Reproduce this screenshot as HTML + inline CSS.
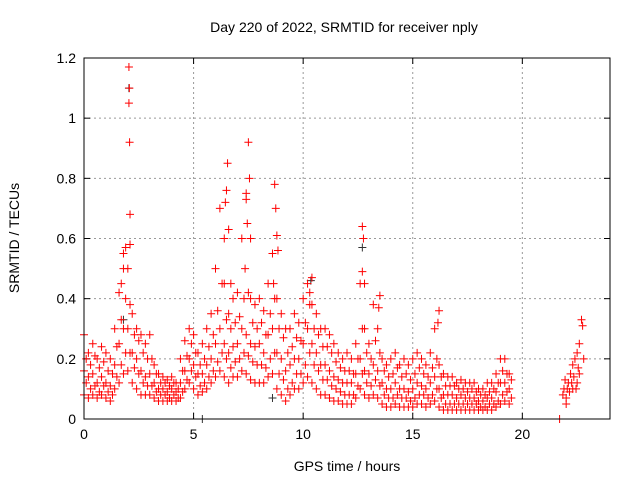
<!DOCTYPE html>
<html><head><meta charset="utf-8"><style>
body{margin:0;background:#fff}
svg{display:block;font-family:"Liberation Sans",Arial,sans-serif}
</style></head><body>
<svg id="chart" width="640" height="480" viewBox="0 0 640 480">
<text x="344" y="32" text-anchor="middle" font-size="14">Day 220 of 2022, SRMTID for receiver nply</text>
<text x="347" y="471" text-anchor="middle" font-size="14">GPS time / hours</text>
<text transform="translate(19,238) rotate(-90)" text-anchor="middle" font-size="14">SRMTID / TECUs</text>
<g id="grid"></g><g id="ticks"></g><g id="marks"></g>
<rect x="84" y="58" width="526" height="361" fill="none" stroke="#000" stroke-width="1"/>
</svg>
<script>
const xTicks=[0,5,10,15,20];
const yTicks=[0,0.2,0.4,0.6,0.8,1.0,1.2];
const yTickLabels=["0","0.2","0.4","0.6","0.8","1","1.2"];
const segStart=0, segStep=0.2, offStart=0.1;
const hiVals=[0.28,0.22,0.25,0.2,0.24,0.22,0.2,0.3,0.42,0.55,0.5,0.35,0.3,0.28,0.25,0.28,0.18,0.15,0.14,0.13,0.14,0.12,0.2,0.26,0.3,0.28,0.22,0.25,0.3,0.35,0.5,0.7,0.45,0.35,0.4,0.42,0.6,0.75,0.4,0.38,0.4,0.36,0.45,0.55,0.4,0.35,0.3,0.3,0.35,0.32,0.4,0.45,0.38,0.35,0.3,0.3,0.28,0.25,0.22,0.2,0.22,0.2,0.25,0.45,0.3,0.25,0.38,0.3,0.2,0.18,0.2,0.22,0.18,0.2,0.18,0.2,0.22,0.2,0.18,0.22,0.3,0.18,0.15,0.14,0.14,0.12,0.13,0.12,0.12,0.12,0.1,0.1,0.12,0.12,0.15,0.2,0.2,0.15];
const midVals=[0.16,0.14,0.15,0.12,0.14,0.12,0.11,0.18,0.25,0.3,0.3,0.22,0.2,0.16,0.14,0.15,0.12,0.1,0.1,0.09,0.1,0.09,0.12,0.16,0.2,0.18,0.15,0.15,0.18,0.2,0.25,0.3,0.25,0.22,0.24,0.25,0.3,0.28,0.25,0.24,0.25,0.22,0.28,0.3,0.22,0.2,0.16,0.18,0.2,0.2,0.25,0.3,0.25,0.22,0.18,0.18,0.16,0.14,0.13,0.12,0.12,0.12,0.15,0.2,0.16,0.15,0.18,0.16,0.12,0.1,0.1,0.12,0.1,0.1,0.09,0.1,0.12,0.11,0.1,0.12,0.14,0.1,0.08,0.08,0.08,0.07,0.08,0.07,0.07,0.07,0.06,0.06,0.07,0.07,0.09,0.12,0.12,0.1];
const loVals=[0.08,0.07,0.08,0.07,0.08,0.07,0.06,0.1,0.12,0.15,0.16,0.12,0.1,0.08,0.08,0.08,0.07,0.06,0.06,0.06,0.06,0.06,0.07,0.1,0.12,0.1,0.08,0.09,0.1,0.12,0.14,0.16,0.14,0.12,0.14,0.14,0.16,0.15,0.13,0.12,0.12,0.12,0.14,0.15,0.1,0.08,0.06,0.08,0.1,0.1,0.12,0.14,0.12,0.1,0.08,0.08,0.07,0.06,0.06,0.05,0.05,0.05,0.07,0.1,0.08,0.07,0.08,0.07,0.05,0.04,0.04,0.05,0.04,0.04,0.04,0.04,0.05,0.05,0.04,0.05,0.06,0.04,0.03,0.03,0.03,0.03,0.03,0.03,0.03,0.03,0.03,0.03,0.03,0.03,0.04,0.05,0.06,0.05];
const upMidVals=[0.2,0.18,0.21,0.17,0.19,0.16,0.15,0.24,0.33,0.4,0.38,0.28,0.26,0.22,0.2,0.2,0.15,0.12,0.12,0.11,0.12,0.1,0.16,0.21,0.25,0.22,0.18,0.2,0.24,0.28,0.36,0.45,0.33,0.3,0.32,0.34,0.4,0.42,0.32,0.3,0.32,0.28,0.35,0.4,0.3,0.27,0.22,0.24,0.27,0.26,0.32,0.38,0.3,0.28,0.24,0.24,0.22,0.19,0.17,0.16,0.16,0.15,0.2,0.3,0.22,0.2,0.26,0.22,0.16,0.14,0.15,0.17,0.14,0.15,0.13,0.15,0.17,0.15,0.14,0.17,0.2,0.14,0.11,0.11,0.11,0.1,0.1,0.09,0.1,0.09,0.08,0.08,0.09,0.1,0.12,0.16,0.15,0.13];
const loMidVals=[0.12,0.1,0.11,0.09,0.11,0.09,0.08,0.14,0.18,0.22,0.22,0.17,0.15,0.12,0.11,0.11,0.09,0.08,0.08,0.07,0.08,0.07,0.09,0.13,0.16,0.14,0.11,0.12,0.14,0.16,0.19,0.22,0.2,0.17,0.19,0.2,0.22,0.21,0.19,0.18,0.18,0.17,0.2,0.22,0.15,0.13,0.1,0.12,0.15,0.15,0.18,0.22,0.18,0.16,0.13,0.13,0.11,0.1,0.09,0.08,0.08,0.08,0.11,0.15,0.12,0.11,0.13,0.11,0.08,0.07,0.07,0.08,0.07,0.07,0.06,0.07,0.08,0.08,0.07,0.08,0.1,0.07,0.05,0.05,0.05,0.05,0.05,0.05,0.05,0.05,0.04,0.04,0.05,0.05,0.06,0.08,0.09,0.07];
const extraT=[2.05,2.07,2.05,2.08,2.1,2.1,1.9,1.8,1.7,6.5,6.55,6.6,6.45,6.7,6.4,7.4,7.5,7.55,7.45,7.6,7.35,8.7,8.75,8.8,8.85,8.65,10.4,10.3,12.7,12.75,12.7,12.8,13.5,13.45,16.2,16.15,21.7,21.9,22.0,22.1,22.2,22.3,22.4,22.5,22.6,22.7,22.75,22.6,22.3,22.0,22.5,22.8,21.95,22.15,22.35,22.55,22.45,22.25,22.05,21.85];
const extraV=[1.17,1.1,1.05,0.92,0.68,0.58,0.57,0.5,0.45,0.76,0.85,0.63,0.72,0.45,0.6,0.73,0.92,0.8,0.65,0.6,0.5,0.78,0.7,0.61,0.56,0.45,0.47,0.42,0.64,0.6,0.49,0.45,0.41,0.37,0.36,0.32,0.0,0.1,0.07,0.12,0.15,0.18,0.2,0.22,0.25,0.33,0.31,0.15,0.1,0.05,0.12,0.2,0.13,0.09,0.14,0.17,0.1,0.12,0.1,0.08];
const blackT=[2.05,12.7,5.4,8.6,10.35,1.8];
const blackV=[1.1,0.57,0.0,0.07,0.46,0.33];
const NS="http://www.w3.org/2000/svg";
const X0=84,X1=610,Y0=419,Y1=58;
const xs=t=>X0+(t/24)*(X1-X0);
const ys=v=>Y0-(v/1.2)*(Y0-Y1);
const grid=document.getElementById('grid'),ticks=document.getElementById('ticks'),marks=document.getElementById('marks');
function mk(tag,p,parent){const e=document.createElementNS(NS,tag);for(const k in p)e.setAttribute(k,p[k]);parent.appendChild(e);return e;}
xTicks.forEach(t=>{const x=xs(t);
 if(t>0){const g=mk('line',{x1:x,x2:x,y1:Y0,y2:Y1,stroke:'#999','stroke-dasharray':'2,3'},grid);
 
 }
 const l=mk('text',{x:x,y:Y0+20,'text-anchor':'middle','font-size':14},ticks);l.textContent=t;
 
 
 mk('line',{x1:x,x2:x,y1:Y0,y2:Y0-6,stroke:'#000'},ticks);mk('line',{x1:x,x2:x,y1:Y1,y2:Y1+6,stroke:'#000'},ticks);});
yTicks.forEach((v,i)=>{const y=ys(v);
 if(v>0&&v<1.2){const g=mk('line',{x1:X0,x2:X1,y1:y,y2:y,stroke:'#999','stroke-dasharray':'2,3'},grid);
 
 }
 const l=mk('text',{x:X0-8,y:y+5,'text-anchor':'end','font-size':14},ticks);l.textContent=yTickLabels[i];
 
 
 mk('line',{x1:X0,x2:X0+6,y1:y,y2:y,stroke:'#000'},ticks);mk('line',{x1:X1,x2:X1-6,y1:y,y2:y,stroke:'#000'},ticks);});
function plus(t,v,col){const x=xs(t),y=ys(v);
 const p=mk('path',{d:`M${x-4},${y}H${x+4}M${x},${y-4}V${y+4}`,stroke:col,'stroke-width':1,fill:'none'},marks);
 
 }
blackT.forEach((t,i)=>plus(t,blackV[i],'#333'));
[hiVals,midVals,loVals].forEach(arr=>arr.forEach((v,i)=>plus(segStart+i*segStep,v,'#f00')));
[upMidVals,loMidVals].forEach(arr=>arr.forEach((v,i)=>plus(offStart+i*segStep,v,'#f00')));
extraT.forEach((t,i)=>plus(t,extraV[i],'#f00'));
</script>
</body></html>
